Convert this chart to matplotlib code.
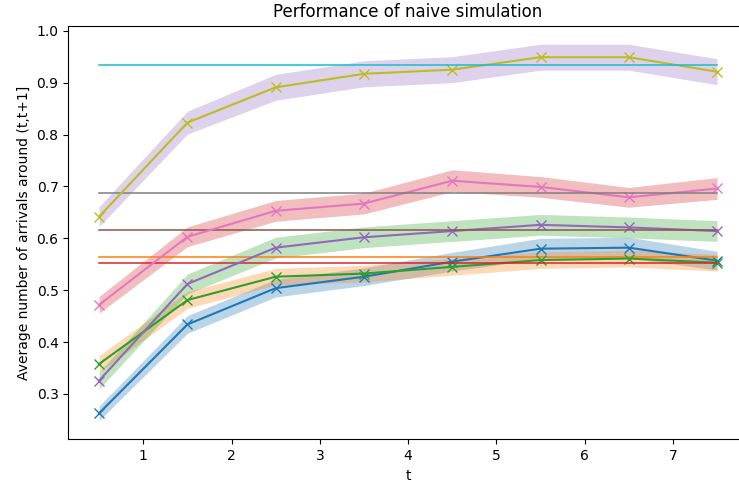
import numpy as np
import matplotlib
matplotlib.use("Agg")
import matplotlib.pyplot as plt

# 時刻（区間の中央）
t = [0.5, 1.5, 2.5, 3.5, 4.5, 5.5, 6.5, 7.5]

# シミュレーション平均値
sim_a = [0.263, 0.434, 0.504, 0.526, 0.555, 0.580, 0.582, 0.557]
sim_b = [0.358, 0.481, 0.526, 0.532, 0.545, 0.558, 0.561, 0.553]
sim_c = [0.326, 0.512, 0.582, 0.602, 0.614, 0.626, 0.621, 0.614]
sim_d = [0.472, 0.603, 0.653, 0.667, 0.711, 0.699, 0.679, 0.696]
sim_e = [0.642, 0.823, 0.891, 0.917, 0.925, 0.949, 0.949, 0.921]

# 帯の幅（±）
err_a = [0.014, 0.017, 0.017, 0.017, 0.018, 0.020, 0.020, 0.018]
err_b = [0.016, 0.016, 0.016, 0.016, 0.016, 0.016, 0.016, 0.016]
err_c = [0.016, 0.019, 0.020, 0.020, 0.020, 0.020, 0.020, 0.020]
err_d = [0.016, 0.019, 0.020, 0.020, 0.021, 0.020, 0.019, 0.021]
err_e = [0.019, 0.022, 0.025, 0.025, 0.025, 0.025, 0.025, 0.025]

# 理論値（水平線）
theory = [0.564, 0.552, 0.616, 0.687, 0.934]

sims = [sim_a, sim_b, sim_c, sim_d, sim_e]
errs = [err_a, err_b, err_c, err_d, err_e]

tab = plt.rcParams['axes.prop_cycle'].by_key()['color']

fig = plt.figure(figsize=(7.39, 4.86), dpi=100)
ax = fig.add_axes([0.0924, 0.0961, 0.9197, 0.851])

for i in range(5):
    m = np.array(sims[i])
    e = np.array(errs[i])
    ax.plot(t, m, marker='x', color=tab[2 * i], markersize=7)
    ax.fill_between(t, m - e, m + e, color=tab[i], alpha=0.3, linewidth=0)
    ax.plot([t[0], t[-1]], [theory[i], theory[i]], color=tab[2 * i + 1], linewidth=1.1)

ax.set_xlim(0.15, 7.85)
ax.set_ylim(0.2127, 1.0097)
ax.set_title("Performance of naive simulation")
ax.set_xlabel("t")
ax.set_ylabel("Average number of arrivals around (t,t+1]")

fig.savefig("out.png", dpi=100)
